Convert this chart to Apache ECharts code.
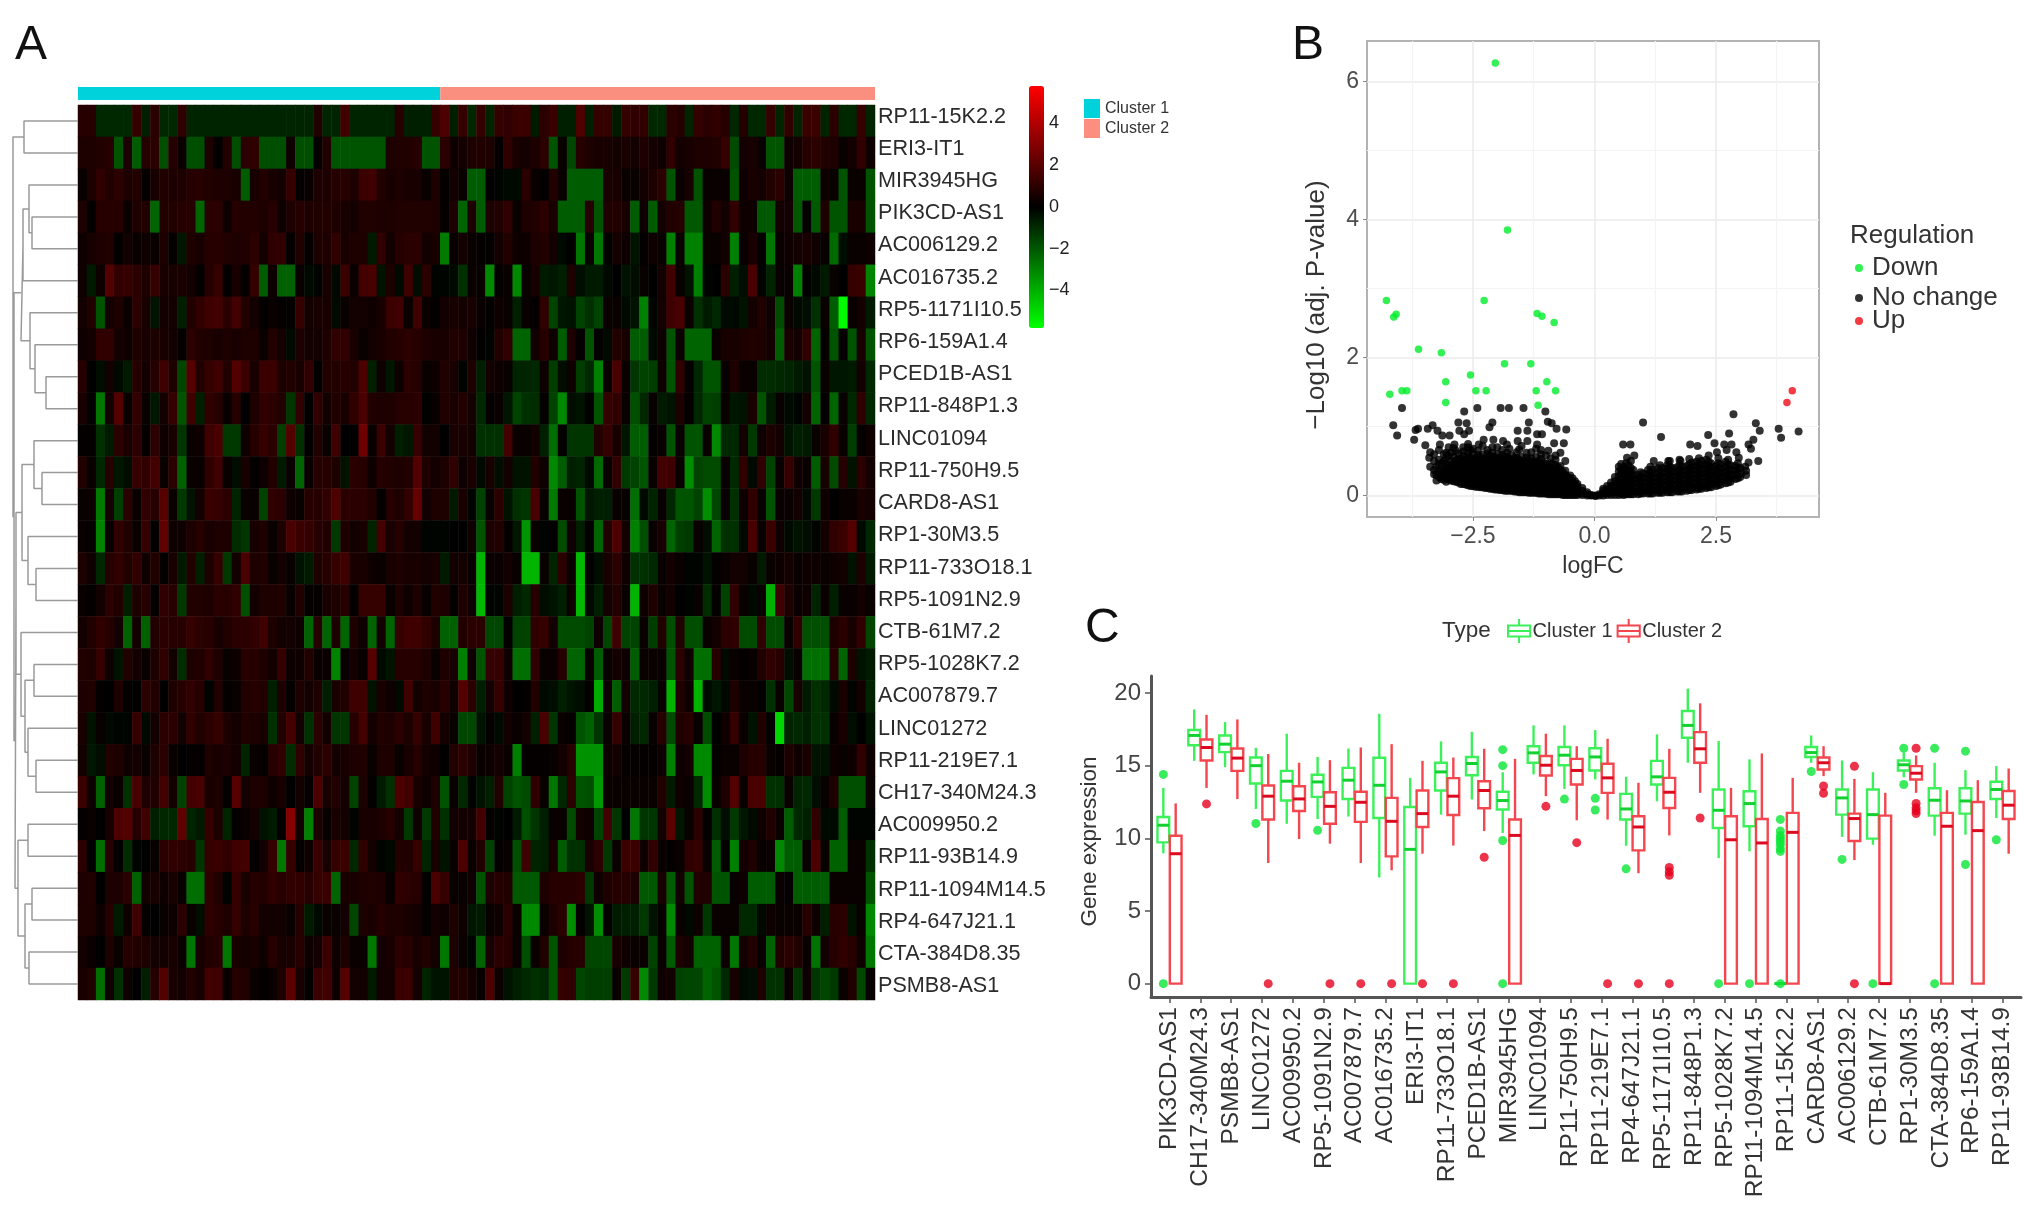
<!DOCTYPE html>
<html><head><meta charset="utf-8">
<style>html,body{margin:0;padding:0;background:#fff}#c{width:2032px;height:1207px;filter:blur(.6px)}</style>
<script src="https://cdn.jsdelivr.net/npm/echarts@6/dist/echarts.min.js"></script>
</head><body><div id="c"></div>
<script>
const FONT='"Liberation Sans", Arial, Helvetica, sans-serif';
// ---------- Panel A ----------
const rowLabels=['RP11-15K2.2','ERI3-IT1','MIR3945HG','PIK3CD-AS1','AC006129.2','AC016735.2','RP5-1171I10.5','RP6-159A1.4','PCED1B-AS1','RP11-848P1.3','LINC01094','RP11-750H9.5','CARD8-AS1','RP1-30M3.5','RP11-733O18.1','RP5-1091N2.9','CTB-61M7.2','RP5-1028K7.2','AC007879.7','LINC01272','RP11-219E7.1','CH17-340M24.3','AC009950.2','RP11-93B14.9','RP11-1094M14.5','RP4-647J21.1','CTA-384D8.35','PSMB8-AS1'];
const cluster1Count=40, cluster2Count=48;
const h00=[.7,.7,-1,-1,-1,-1,1,-.8,.8,-1,-1,.9,-.9,-.9,-.9,-.9,-.9,-.9,-.9,-.9,-.9,-.9,-.9,-.9,-.9,-.9,.6,-.9,-.9,1.3,-.9,-.9,-.9,-.9,-.9,.7,-.8,-.8,-.8,1,1.5,-.8,1,-1, 1,-.9,1,.9,1.1,1.1,-.7,.8,1.1,-.8,-.8,1.5,-.8,1,1,-.7,1,.9,.9,-1,-1,.8,.7,-.9,1,.8,.9,.7,-1,.7,-1,-1,1,-.9,.9,-.9,1.1,1.1,-.9,.8,-1,-1,1,-.9];
const h01=[.5,.5,.6,.7,-2,.5,-2.2,.7,.8,-1.9,.7,.1,-1.9,-1.9,.5,0,.6,-1.9,.8,.9,-1.9,-1.9,-1.9,.2,-1.9,-1.9,0,.6,-2,-2,-2,-2,-2,-2,.5,.6,.6,.7,-2,-2,.8,.2,.3,.5, .6,.5,0,.9,.4,.3,.5,.8,-2,.1,-1.7,.7,.5,.4,.4,.3,.4,.3,.5,.3,.2,.9,.3,.4,.5,.5,.6,1,-1.8,.3,.4,.1,-2,-2,.2,.3,.7,.8,.6,.5,.1,.3,.9,.2];
const h02=[.1,.5,.9,.6,.8,.5,.6,0,.4,.6,.5,.5,.7,.7,.6,.5,.5,.4,-2.2,.4,.6,.4,.3,1,0,.1,.5,.5,.7,.7,.5,1.1,1.2,.6,.4,.5,.4,.4,.1,.5,0,.3,.1,-2.2, -2.2,0,-.2,-.3,-.3,.8,.1,0,.6,.1,-2.2,-2.2,-2.2,-2.2,.4,.4,.1,.1,.3,.5,.8,-2,.1,.4,-2,.1,.1,.1,-2,.2,.4,.3,.6,.8,.2,-2.2,-2.2,-2.2,.2,.1,-2,.1,.1,-2];
const h03=[.5,0,.7,.7,.7,.1,.5,.6,-2.4,.6,.6,.7,.7,-2.4,.8,.8,.2,.7,.6,.6,.5,.7,.2,.5,.7,.5,.6,.6,.5,.4,.3,.6,.6,.5,.5,.6,.6,.6,.6,.5,0,.5,-2.4,.5, -2.2,.5,.6,.9,.1,.5,.6,.8,.4,-2.2,-2.2,-2.2,.7,-2,.6,.6,.4,-2.2,.2,-2.2,.3,.6,.7,-2.1,-2.1,.2,.6,.3,.9,.2,.2,-2.1,-2.1,.3,.3,-2.1,0,-2.1,.5,-2,-2,.4,.4,-2];
const h04=[.2,.4,.5,.6,0,.3,.1,.2,.1,.5,0,-.6,.5,.4,.7,.7,.6,.5,.6,.8,.3,.9,.9,0,.6,0,.5,.5,.9,.4,.5,.5,-.7,.9,.3,.7,.8,.8,.3,.4,-2.9,.1,.3,.1, 0,0,.3,.6,.2,.2,.5,.6,.3,-.3,0,-2.8,.1,-2.8,-.2,.3,.2,-.5,0,.2,.1,-3,.1,-3,-3,.1,.1,.3,-3,.1,.4,0,-2.8,.1,.2,.3,.4,.2,.1,-2.5,-.4,.1,.1,.2];
const h05=[.2,-.7,.2,1.6,.9,1,.8,.5,1,.4,.4,.4,.3,0,.7,1,0,.4,0,1,-2.2,.2,-2.3,-2.3,.1,-.3,-.2,.4,-.3,1.1,.1,1.3,1.4,-.5,.5,-.3,1.2,-.4,.8,-.2,-.2,-.3,-1.2,.1, .1,-3.2,0,.1,-3.2,.1,.4,-.7,-.6,-.8,.5,-.4,-.7,-.7,-.3,-.1,-.5,-.4,.1,-.1,.3,1.3,.1,-.5,-3,-.2,-.1,.8,-.8,-.4,1.4,-.2,-.9,.1,.1,-3,0,-.3,-.7,.1,-.1,1,1.1,-3.1];
const h06=[.3,.6,-2,.3,.5,.1,.8,.4,-.5,.3,.3,-.8,.6,.9,1.2,1.3,.8,1.3,.6,.3,0,.1,0,0,1,.3,.4,.4,-.3,.1,.3,.3,.2,.4,1.1,1.2,.1,1.2,.1,0,.3,.4,.3,.4, .1,0,.2,.1,-.8,.1,0,.9,-1.6,-.6,-.5,-1.6,-1.2,-1.6,.1,.1,-.3,-.5,-3,-.2,.3,1.2,1.4,.1,-1.2,-.7,-1,-.3,-.3,-.5,.3,.6,.2,-1.8,.1,-.3,-.4,-1.2,.1,-2.2,-5.8,.1,.3,-.7];
const h07=[.2,.3,.9,.9,.3,.2,.5,.4,.5,.4,.3,0,.8,.6,.5,.4,.5,.4,.5,.5,.1,.6,.3,-.3,.5,.3,.3,.5,.9,.9,.4,.1,.3,.4,.6,.7,.8,.7,.5,.4,.4,.6,.5,.2, 0,-.2,.6,.9,-2.4,-2.4,.3,.7,.2,-2.2,.5,0,-2,0,-.3,.6,.4,-2.2,-2.2,-.3,.2,-2,.2,-2.4,-2.4,-2.4,.1,.4,.4,.5,.6,.5,.3,-2.2,.4,.3,.9,-2.4,0,-2,0,-2,.4,-2];
const h08=[.7,-.1,-.4,.3,-.3,-.7,.7,.3,.7,1.2,.5,-1.7,1.7,.6,1,1.2,.6,1.6,1.1,.4,1.1,1.1,.5,.6,.4,.9,-.1,.6,.6,.7,.6,1.5,-.8,.2,-.6,.2,.8,.7,.1,.2,.6,.4,-.2,.5, -.8,.3,.2,.1,-.9,-.9,-1,.2,-1.5,-.4,.2,-1.5,-1,-3,.1,1.4,.1,-1.3,-1.6,-1.5,.2,-2,.9,0,-1,-2,-2,.1,.5,.1,.1,-1.1,-1.1,-1,-.9,-.7,-.5,-2,.1,-.6,-.6,-.7,.3,-1];
const h09=[.4,0,-2.8,.3,1.6,.1,.9,.1,-.6,.3,1,-2,1.2,-.8,.9,.7,.1,.7,-.1,.5,.9,.8,.6,-1.3,.9,-.1,.9,.3,.6,.4,.9,1.4,.6,.5,.5,.7,.7,.8,-.1,.1,.6,.4,.6,.3, -1,0,.1,-.6,-1.6,-1.2,-1.1,0,-1.6,-3.2,-.4,-.5,0,-2,1,.9,.1,-1.9,-1,.1,-.7,-.5,.5,0,-1,-1.6,-1.5,.1,-.6,-.5,.4,-2,-.7,.1,-.3,-.2,.3,-2.4,0,-2.4,.1,-1,.9,-1];
const h10=[0,0,-1.2,-.7,.8,.4,.8,0,.8,.2,.4,-1.3,.1,.2,1.2,1.4,-1.4,-1.4,.2,.7,1,.8,-1.5,1.6,-1.2,0,.6,.1,1.2,-.1,-.1,2.2,.1,1.1,.3,-.8,-.6,1,.3,.3,-.1,.4,.4,.3, -1.2,-1.2,-1.2,1.3,.1,.1,.3,-.8,-2.6,0,-1.3,-1.3,-1.3,.6,1,.4,-.6,-2.2,-2.2,0,.1,-2,.1,-2,-2,.1,-3.2,-1,-1,.3,-1.4,.2,.5,.3,-.5,-.8,-.7,.1,.4,.9,.1,-1.5,0,.2];
const h11=[.6,.1,-1,.7,-.6,-.4,1,.9,1.3,.1,.8,-2.3,.1,.1,.9,1.2,.1,-.4,.4,0,.2,.6,-.7,.1,-2.4,.1,.7,.7,.5,-.5,.8,.7,.2,.7,.6,.5,.6,1.6,.5,.3,.5,.9,.2,.4, -.3,.4,-.4,.3,-.5,-.5,.6,.2,-3.2,-2.2,-.8,-.9,-.3,-2.5,.1,.9,-1.4,-1.6,-2,.1,1.3,1.2,.1,-3.3,-1.6,-1.8,-1.8,.1,-1,.9,-.3,.9,-1.6,.1,1,.2,.1,-2.2,.4,-1.8,.7,-.5,.8,.3];
const h12=[.1,.2,-2.9,.3,-1.5,.8,.1,.9,.7,1.7,.1,-1.4,-.5,.3,1.1,1,.8,-.9,.1,.1,-1.6,.9,.8,.2,.1,.7,.7,.9,1.5,.8,.8,.8,.6,0,.7,.5,.9,2,.3,.5,.5,-.7,.4,-.2, -1.6,.1,.8,-.5,-1.2,-1.3,1.4,.1,-2.9,.1,.1,-2,-.6,-.8,-.8,.1,.1,-2.6,-.3,-.9,.1,-1,-2,-2,-1.6,-3.3,-1.7,.1,-1.2,.2,.9,.1,-2,.1,.1,.3,-.3,-1.4,.2,-.1,.1,.1,.4,.3];
const h13=[.1,0,-3.1,.1,.9,.6,.1,1,0,1.9,.2,.2,.5,.7,.4,.5,.5,-1.1,-1.3,.4,.5,.1,.5,1.4,1.1,1,.7,.6,-1.4,.5,.3,.4,-.9,1.3,.4,.7,.3,.3,-.2,-.2,-.2,-.1,-.1,.2, -2,.5,.6,0,-.6,-3.5,.1,-.2,0,-1.8,.2,-.8,0,-2.4,.6,1.5,.3,-3,-1.9,.1,.4,-2.4,-1.5,-1.4,.1,-.4,-2.4,-1.2,-1.2,-.3,1.4,.1,1.1,.2,-.3,-.5,-.4,-.2,.3,.9,1.1,1.6,-.3,-1];
const h14=[.5,.2,-1,.7,.9,.6,.9,.2,.6,0,.4,-.7,.6,-.8,.5,1,-1.4,.3,1.4,.5,.6,.1,.3,.1,-.5,-.7,.5,.7,1,1.2,.4,.4,.2,.1,.4,.5,.4,.4,.3,.4,-.7,.3,.3,.1, -4.2,.1,.1,.3,.1,-4.2,-4.2,.1,-.9,.8,.1,-4.3,0,-.4,.4,.8,.2,-1.2,-1.2,-1,.1,.3,.1,-.2,-.2,-.5,0,.1,.3,.3,.1,-.7,.1,.2,.3,.1,.2,.2,.1,.2,.3,-.5,.5,-.7];
const h15=[.1,0,.3,.8,.6,-.8,.5,.7,0,.9,.7,-1.4,.6,.6,.5,.8,.7,.9,-1.9,.3,.5,.5,.6,.1,.6,0,0,.4,.5,.7,0,1,1,1,.1,.5,.2,.5,.1,.6,.5,0,.5,.2, -4.3,-.2,-.2,.5,-.8,-1,.7,-.4,-.5,-.8,.2,-4.3,-.3,-.8,.3,.6,.1,-4.2,.2,.5,.1,.3,-.1,-.2,.1,-1.1,0,-1.6,.9,.1,-.3,.1,-4.1,1.2,.5,.1,.2,-.9,.1,-.8,.1,.1,.3,.1];
const h16=[.3,.6,.9,.7,.3,-2.3,.3,-2.3,.6,.8,.7,.7,1,.8,.7,.4,.6,.8,.8,.9,1.2,.5,.3,.3,.2,-2.4,.7,-2.4,.5,-2.4,.5,.2,-2.4,.3,-2.4,1,1.2,1.2,.9,.5,-2.3,-2.3,.6,.8, .8,-1.7,-1.7,0,-1.6,-1.6,.9,1,.3,-1.8,-1.8,-1.8,-1.6,.2,-1.7,1.2,-1.6,-1.6,.1,-1.5,.6,-1.9,.6,-1.9,-1.9,.1,.3,.8,.9,-1.8,-1.8,.9,-1.8,-1.8,.1,.9,-1.9,-1.9,-1.9,.5,.8,.4,.9,-1.7];
const h17=[.6,.5,1,.2,-.5,.6,.3,.1,.5,.9,.3,-1.1,.5,.6,.9,.5,.1,.2,.7,.7,.5,.3,1,.2,.2,.6,.1,.1,-3.1,.1,.3,.1,1.7,-.3,-.5,.7,.7,.7,.5,.1,.5,.4,-3,.2, -2,1,1,.2,-2.6,-2.6,.9,.1,.1,.7,-2.4,-2.4,.1,-2.2,.1,.3,.2,-2.2,.1,.1,.1,-2,.8,.2,-2.6,-2.6,.7,-.3,.1,0,.1,.6,.9,.7,-.4,.1,-2.6,-2.6,-2.6,.7,-2.4,.5,-.5,-.7];
const h18=[.5,.6,0,-.1,.5,0,-.1,.8,.6,-.1,.5,.7,.9,.7,-.2,.6,0,.1,.6,.7,.6,-.8,.5,0,.5,.3,.5,-.8,.4,.6,1.2,1.2,-.5,.4,.2,-.3,1.2,.3,.5,.4,.7,.2,1.6,.8, -.8,.3,1,.2,-.1,0,.6,-.3,-.4,-.8,-.5,-.4,0,-4,.2,-2.2,.3,-1,-1,-.8,.1,-4.2,.6,.2,-4.2,-.3,-.6,-.3,.5,.1,.1,0,-1.2,.1,-1.7,.4,-.7,-1.2,-1,-.3,.4,-.2,.3,-.9];
const h19=[.4,-.5,.1,-.3,-.2,-.2,1,-.3,.3,.8,.8,.3,.9,.6,.8,1,.5,.3,.6,.5,.4,-1.2,.6,1.3,.3,-1.2,.8,.3,-1.3,-1.3,.7,1.3,.3,.6,.5,.8,.5,1,.4,1.2,.3,.1,-1.7,-1.7, -.5,0,-.3,.3,.1,.3,-.8,1.4,-1.3,.1,0,-2,-2.3,-1.3,.1,1,.1,-.8,-1,.1,.7,-1.8,.6,.7,.1,-1.8,-.1,.2,1,.1,-.5,.6,0,-5,-.9,-1,-.8,-1.2,-1.2,.1,.4,-.4,-.1,-.5];
const h20=[.3,-.6,-.4,.6,.5,.2,.3,.1,.5,.8,.1,-.1,0,0,.5,.4,.5,.3,-.9,.1,0,.7,.9,-1.1,.9,.3,.6,.8,.3,.4,.5,.6,.1,.5,.5,.1,.4,.7,.3,.2,-.1,.6,.8,.5, .1,.2,.3,.1,-3,0,0,0,.1,.3,.7,-3.4,-3.4,-3.4,.2,.3,0,0,0,0,.2,-3,.2,.3,-3.2,-3.2,0,.1,.1,.5,.7,.7,.1,0,.5,.2,.4,-.5,-.5,.2,.1,.2,.9,.2];
const h21=[1.1,.2,-2.3,.3,.1,-1.2,1.4,.5,.6,1.3,.3,-1.6,1.3,1.4,.4,.5,0,1.7,.3,.5,.5,.2,.4,-.1,.3,0,1.5,.4,.6,.3,-1.6,.5,0,-.7,-1.2,1.5,1.3,.4,.2,.5,-2,.1,-1,-.2, -.5,-.8,.6,-1.6,-2,-1.8,.9,.1,-2.8,-1,.8,-2,-1.9,-3.6,.1,.1,.1,.1,.1,.1,.6,-.7,.2,.1,-1,-3.3,.1,.5,1.6,.1,1.4,1.4,-1.2,-1.2,.1,-.9,-1,-.4,.1,.5,-1.9,-1.9,-1.9,.1];
const h22=[0,.1,-.1,.4,1.5,1.6,.7,1.2,-.8,-1,-1,1.9,-.9,-.7,1,.5,-.9,0,.1,.3,-.5,-.7,0,2.7,.3,-3,.5,.1,.4,.3,-.2,.4,.4,.5,.7,.3,-1.4,.2,-1.4,.6,-1.2,.3,.3,.3, 1.3,0,-.2,-.1,-.7,-1.9,-1.3,-.8,.1,.1,-1.8,.3,.2,-1.6,1.3,-1.3,-.1,-2.8,-1.3,-1.3,.3,1.8,-.6,.1,.8,0,-1.2,-.4,-1.4,-.6,-.3,.2,.6,.1,-2.2,-1,-.8,.9,-.3,-.3,-2.2,-.2,-.2,-.2];
const h23=[.8,-.1,-2.6,.7,0,-1.1,-.2,-.1,.1,.8,.9,.8,.7,-1.3,1,1.1,.9,1.2,1.3,0,.3,1,-2.8,1,0,.2,1.1,.4,1,1.1,-1,.9,.3,-.2,-.3,.6,.6,1,-.9,.4,-.5,.1,1.5,.1, .6,-1.6,0,.1,-1.9,1.2,-.9,-.8,.4,-2.2,-1.2,-1.2,.4,.8,-1.4,.1,1.1,1.1,.2,.9,.1,0,.1,.9,1,.1,-2.2,0,-3,.3,.5,.1,.1,-3.2,-2.2,-2.2,.1,1.5,.1,-2.3,-2.3,.1,.1,-1.2];
const h24=[.5,.6,-.1,.5,.5,.8,-2.3,.3,.4,.2,.4,.1,-2.6,-2.6,.9,.6,-.2,1,.4,.7,.6,.9,.7,.9,.9,.7,1,1.1,-2.4,.4,.4,.5,.6,.5,.1,.9,.8,.7,0,1.4,1,.1,.1,.2, -2,.5,.7,.6,-2.1,-2.1,-2.1,.5,.7,.7,.7,.8,-1.4,.2,.5,.7,.7,.5,-2.1,-2.1,.4,-2.2,.3,-2,.6,.6,-2,-2,.1,.2,-2.2,-2.2,-2.2,.1,0,-2.2,-2.2,-2.2,-2.2,.1,.1,.1,.1,-2];
const h25=[.5,.5,.2,.7,-.7,.2,1.2,0,-.1,.1,.2,.8,.1,-.4,.9,.7,.5,1,.5,.7,.3,.3,.3,.1,.7,-.7,-.3,.1,.1,.3,-1.7,.5,.4,.7,.5,.5,.4,.3,0,.3,.2,.5,.2,-.6, -.7,.1,.2,.8,.1,-3.2,-3.2,.1,.5,.8,-3.3,0,-.5,-3.3,0,-.7,-.8,-.8,-1.4,-.5,.1,-3.2,.1,-.3,.2,-1.4,.1,.1,.1,-1,-1,-.3,.2,.1,.1,.1,.7,.2,-.8,.7,.8,-.5,.1,-3.2];
const h26=[.3,.1,-.1,.5,.1,.7,.6,.5,.3,.3,.4,.1,-2.8,.4,.6,.7,-2.8,.4,.3,.4,.2,.7,.4,.4,.7,.2,.3,1.1,.2,.5,.1,.1,-2.8,.3,.4,.8,.7,.4,.6,.3,-2.8,.5,.1,-.2, -2.4,.4,.8,.7,.1,-1.9,.1,.6,-2,.5,.7,.7,-1.7,-1.7,-1.7,.4,.2,.1,.1,-1.6,.1,-2.2,.5,.3,-2.3,-2.3,-2.3,.2,-2.8,.3,.6,.1,-2.3,.6,.8,.6,.1,-2.7,.3,.7,.9,.7,.2,-2.8];
const h27=[.4,.6,-2.6,.2,-1.2,.2,-.1,-.8,.7,1.6,.4,.3,.6,.4,1.3,1.2,.1,.7,.6,.1,0,.1,.5,1.8,.4,0,1.1,1.2,.2,1.7,.3,.3,-.7,.3,.3,1.1,1.1,.3,-.9,-.5,-.5,.6,.6,.3, .1,1.5,.2,-.5,-.8,-1,-1.2,-1,-2,1,.9,-1.7,-1.5,-1.5,-1.5,.1,-1.4,1,-3.2,-1.4,.2,.3,-1.6,-1.7,-1.7,-2.4,-2,-1,.4,-.3,-.4,.5,-1.2,-1.2,.1,-1.3,.2,-1.3,-1.7,-1.4,.1,.6,-1.7,.1];
const heatRows=[h00,h01,h02,h03,h04,h05,h06,h07,h08,h09,h10,h11,h12,h13,h14,h15,h16,h17,h18,h19,h20,h21,h22,h23,h24,h25,h26,h27];
const colorbarTicks=[-4,-2,0,2,4];
// dendrogram merges: [childA, childB, height]; child >= 100 means merge number child-100
const dendroMerges=[[0,1,54],[3,4,46],[2,101,49],[102,5,55],[8,9,32],[7,104,43],[6,105,48],[103,106,57],[11,12,36],[10,108,44],[14,15,42],[13,110,50],[109,111,56],[17,18,44],[20,21,42],[19,114,50],[113,115,53],[16,116,57],[112,117,62],[22,23,50],[24,25,46],[26,27,49],[120,121,53],[119,122,60],[118,123,63],[107,124,64],[100,125,65]];
// ---------- Panel B ----------
const volcanoDown=[[-2.04,6.27],[-1.79,3.85],[-4.28,2.83],[-4.08,2.63],[-4.13,2.59],[-2.27,2.83],[-1.18,2.64],[-1.08,2.6],[-.83,2.51],[-3.62,2.12],[-3.15,2.07],[-1.85,1.91],[-1.31,1.91],[-2.55,1.75],[-3.06,1.65],[-.98,1.65],[-4.21,1.47],[-3.96,1.52],[-3.86,1.52],[-2.44,1.52],[-2.23,1.52],[-1.2,1.52],[-.8,1.52],[-3.06,1.35],[-1.16,1.31]];
const volcanoUp=[[4.07,1.52],[3.96,1.35]];
const volcanoSparse=[[-3.96,1.27],[-2.68,1.22],[-2.41,1.27],[-1.93,1.27],[-1.76,1.27],[-1.46,1.27],[-1.01,1.22],[-4.14,1.02],[-4.06,.87],[-3.71,.81],[-3.68,.95],[-3.63,.97],[-3.43,.97],[-3.33,1.02],[-2.8,1.06],[-2.63,1.05],[-2.1,1.06],[-2.16,.99],[-1.35,1.06],[-.96,1.07],[-.88,1.05],[-.78,.97],[-.58,.96],[-1.58,.94],[-1.38,.94],[-1.18,.89],[-1.08,.89],[-3.48,.73],[-3.23,.94],[-3.13,.87],[-2.98,.87],[-2.78,.94],[-2.68,.89],[-2.58,.94],[-2.28,.81],[-2.08,.81],[-1.88,.79],[-1.58,.79],[-1.38,.79],[-1.18,.74],[-.83,.76],[-.63,.76],[-2.38,.74],[-3.18,.74],[-3.38,.63],[-2.88,.74],[-3.4,.55],[-3.38,.42],[-3.3,.5],[-3.05,.62],[-2.95,.62],[-2.85,.65],[-2.7,.7],[-2.6,.75],[-2.55,.66],[-2.2,.66],[-2,.7],[-1.75,.68],[-1.55,.67],[-1.3,.63],[-1.1,.66],[-.95,.65],[-.8,.58],[-.7,.62],[-.6,.5],[-3.02,.24],
[1,1.06],[1.37,.85],[2.86,1.18],[3.32,1.05],[3.79,.97],[3.84,.84],[4.2,.93],[2.77,.9],[2.34,.88],[3.4,.94],[3.27,.81],[3.17,.74],[.59,.74],[.74,.74],[1.97,.74],[2.12,.72],[2.47,.76],[2.67,.74],[2.82,.74],[3.37,.5],[3.17,.48],[2.97,.55],[3.02,.32],[2.72,.66],[2.52,.63],[.82,.58],[.67,.55],[1.22,.5],[1.52,.5],[1.77,.5],[3.22,.68],[2.92,.63],[3.1,.42]];
const volcanoDense=[
[-3.25,[.22,.3,.42]],[-3.15,[.24,.31,.38,.47]],[-3.05,[.2,.26,.33,.4,.46,.55]],[-2.95,[.22,.28,.34,.42,.5]],[-2.85,[.2,.25,.31,.37,.44,.51]],[-2.75,[.17,.23,.29,.35,.41,.47,.54]],[-2.65,[.16,.21,.27,.33,.39,.45,.52]],[-2.55,[.14,.2,.25,.31,.37,.43,.49,.55]],[-2.45,[.13,.18,.24,.3,.36,.42,.48,.54]],[-2.35,[.12,.17,.23,.29,.35,.41,.47,.56]],[-2.25,[.11,.16,.22,.28,.34,.4,.46,.53]],[-2.15,[.1,.15,.21,.27,.33,.39,.45,.51,.58]],[-2.05,[.09,.14,.2,.26,.32,.38,.44,.5,.56]],[-1.95,[.08,.13,.19,.25,.31,.37,.43,.49,.55]],[-1.85,[.07,.12,.18,.24,.3,.36,.42,.48,.57]],[-1.75,[.07,.11,.17,.23,.29,.35,.41,.47,.53]],[-1.65,[.06,.11,.17,.23,.29,.35,.41,.46,.54]],[-1.55,[.05,.1,.16,.22,.28,.34,.4,.46,.52]],[-1.45,[.05,.1,.15,.21,.27,.33,.39,.45,.5]],[-1.35,[.04,.09,.15,.21,.27,.33,.39,.44,.52]],[-1.25,[.04,.09,.14,.2,.26,.32,.38,.43,.49]],[-1.15,[.03,.08,.14,.2,.26,.32,.38,.44,.5]],[-1.05,[.03,.08,.13,.19,.25,.31,.37,.42,.48]],[-.95,[.02,.07,.13,.19,.25,.31,.36,.42]],[-.85,[.02,.07,.12,.18,.24,.3,.36,.45]],[-.75,[.02,.06,.11,.17,.23,.29,.35,.41]],[-.65,[.01,.05,.1,.16,.22,.28,.34]],[-.55,[.01,.05,.1,.15,.21,.27]],[-.45,[.01,.04,.09,.14,.2,.25]],[-.35,[.01,.03,.08,.13,.17]],[-.25,[.01,.03,.07,.11]],[-.15,[0,.02,.05]],[-.07,[0,.01]],
[.02,[-.005,0]],[.1,[0,.02]],[.18,[0,.03,.07,.1]],[.26,[.01,.04,.09,.14]],[.34,[.01,.04,.09,.14,.19]],[.42,[.01,.05,.1,.15,.21,.27]],[.5,[.01,.05,.1,.16,.22,.28,.35,.42]],[.6,[.01,.05,.11,.17,.23,.29,.35,.41]],[.7,[.02,.06,.12,.18,.24,.3,.36,.44]],[.8,[.02,.06,.12,.18,.24,.3,.37]],[.9,[.02,.06,.12,.18,.24,.3]],[1,[.03,.07,.13,.19,.25,.32]],[1.1,[.03,.07,.13,.19,.25,.31,.37]],[1.2,[.03,.08,.14,.2,.26,.32,.38]],[1.3,[.04,.08,.14,.2,.26,.32,.4]],[1.4,[.04,.09,.15,.21,.27,.33,.4]],[1.5,[.05,.09,.15,.21,.27,.33,.39,.44]],[1.6,[.05,.1,.16,.22,.28,.34,.4]],[1.7,[.06,.1,.16,.22,.28,.34,.41]],[1.8,[.06,.11,.17,.23,.29,.35,.42]],[1.9,[.07,.12,.18,.24,.3,.36,.43]],[2,[.08,.12,.18,.24,.3,.36,.42,.48]],[2.1,[.09,.13,.19,.25,.31,.37,.43,.49]],[2.2,[.1,.14,.2,.26,.32,.38,.44,.5]],[2.3,[.11,.15,.21,.27,.33,.39,.45,.52]],[2.4,[.12,.17,.23,.29,.35,.41,.47]],[2.5,[.14,.19,.25,.31,.37,.43]],[2.6,[.16,.21,.27,.33,.39,.45]],[2.7,[.18,.23,.29,.35,.42,.49]],[2.8,[.2,.25,.31,.37,.44]],[2.9,[.24,.3,.36,.43]],[3,[.27,.4]]];
const volcanoFill=[
[-3.3,[.31,.37,.6]],[-3.2,[.27,.35,.45,.52,.66]],[-3.1,[.23,.29,.36,.5,.6]],[-3,[.25,.31,.37,.44,.58,.7]],[-2.9,[.21,.27,.33,.4,.47,.56,.69]],[-2.8,[.19,.25,.32,.38,.46,.53,.61]],[-2.7,[.17,.23,.3,.36,.44,.5,.58,.64]],[-2.6,[.15,.2,.28,.35,.41,.48,.56,.62,.7]],[-2.5,[.14,.19,.26,.33,.4,.46,.52,.6,.68]],[-2.4,[.13,.2,.27,.33,.39,.45,.51,.59,.65]],[-2.3,[.12,.19,.26,.32,.38,.44,.5,.6,.72]],[-2.2,[.11,.18,.24,.3,.37,.43,.49,.55,.61]],[-2.1,[.1,.17,.23,.29,.35,.42,.48,.54,.62,.7]],[-2,[.09,.16,.22,.28,.34,.4,.47,.53,.6]],[-1.9,[.08,.15,.21,.27,.33,.39,.45,.51,.59,.66]],[-1.8,[.07,.14,.2,.26,.32,.38,.44,.5,.56,.62,.74]],[-1.7,[.07,.14,.2,.26,.32,.38,.44,.5,.58]],[-1.6,[.06,.13,.19,.25,.31,.37,.43,.49,.55,.63]],[-1.5,[.05,.12,.18,.24,.3,.36,.42,.48,.56,.72]],[-1.4,[.05,.12,.18,.24,.3,.36,.42,.47,.55,.62]],[-1.3,[.04,.11,.17,.23,.29,.35,.41,.46,.54]],[-1.2,[.04,.11,.17,.23,.29,.35,.41,.47,.56,.68]],[-1.1,[.03,.1,.16,.22,.28,.34,.4,.45,.53,.6]],[-1,[.03,.09,.15,.22,.28,.34,.4,.46,.58]],[-.9,[.02,.09,.15,.21,.27,.33,.39,.47,.54]],[-.8,[.02,.08,.14,.2,.26,.32,.38,.44,.52]],[-.7,[.02,.07,.13,.19,.25,.31,.37,.43]],[-.6,[.01,.06,.12,.18,.24,.3,.36]],[-.5,[.01,.06,.11,.17,.23,.29]],[-.4,[.01,.05,.1,.15,.21]],
[.55,[.02,.08,.13,.19,.25,.31,.38,.46]],[.65,[.02,.08,.14,.2,.26,.32,.38,.47]],[.75,[.02,.09,.15,.21,.27,.33,.4,.5]],[.95,[.03,.09,.15,.21,.27,.34]],[1.15,[.03,.1,.16,.22,.28,.34,.42]],[1.35,[.04,.11,.17,.23,.29,.36,.44]],[1.55,[.05,.12,.18,.24,.3,.36,.42,.5]],[1.75,[.06,.13,.19,.25,.31,.37,.44,.52]],[1.95,[.08,.15,.21,.27,.33,.39,.45,.53]],[2.15,[.1,.16,.22,.28,.34,.4,.46,.54]],[2.35,[.12,.19,.25,.31,.37,.43,.49,.58]],[2.55,[.15,.22,.28,.34,.4,.47,.54]],[2.75,[.19,.26,.32,.38,.45,.52]],[2.95,[.25,.33,.4,.47]],[3.12,[.3,.36]]];
// ---------- Panel C ----------
const geneNames=['PIK3CD-AS1','CH17-340M24.3','PSMB8-AS1','LINC01272','AC009950.2','RP5-1091N2.9','AC007879.7','AC016735.2','ERI3-IT1','RP11-733O18.1','PCED1B-AS1','MIR3945HG','LINC01094','RP11-750H9.5','RP11-219E7.1','RP4-647J21.1','RP5-1171I10.5','RP11-848P1.3','RP5-1028K7.2','RP11-1094M14.5','RP11-15K2.2','CARD8-AS1','AC006129.2','CTB-61M7.2','RP1-30M3.5','CTA-384D8.35','RP6-159A1.4','RP11-93B14.9'];
// [low whisker, q1, median, q3, high whisker]
const boxCluster1=[[8.97,9.72,10.9,11.47,13.47],[15.33,16.4,17.08,17.45,18.87],[14.9,15.93,16.48,17.08,18],[12.02,13.77,15,15.56,16.23],[11,12.6,13.93,14.64,17.2],[11.33,12.85,13.88,14.37,15.6],[11.5,12.71,14,14.85,16.18],[7.3,11.4,13.65,15.54,18.57],[0,0,9.24,12.16,14.16],[11.63,13.29,14.57,15.2,16.67],[12.67,14.34,15.15,15.6,17.33],[10.37,11.98,12.6,13.2,14.55],[14.4,15.2,15.88,16.34,17.77],[13.4,15.03,15.72,16.28,17.77],[14.05,14.67,15.6,16.2,17.45],[9.49,11.29,12.02,13.06,14.23],[12.55,13.7,14.23,15.33,17.15],[15.2,16.92,17.77,18.76,20.3],[8.64,10.71,11.93,13.36,16.69],[9.1,10.83,12.39,13.24,15.43],[0,0,0,0,0],[15.2,15.6,15.9,16.28,17.08],[10.1,11.63,12.78,13.36,15.36],[9.56,9.98,11.63,13.36,14.55],[14.2,14.67,15.06,15.36,15.9],[10.18,11.56,12.62,13.45,15.2],[10.25,11.7,12.57,13.45,14.69],[11.4,12.71,13.36,13.89,14.97]];
const boxCluster2=[[0,0,8.94,10.18,12.4],[13.47,15.36,16.25,16.8,18.5],[12.7,14.64,15.52,16.18,18.18],[8.3,11.29,12.9,13.63,15.8],[9.95,11.88,12.71,13.58,15.2],[9.63,11,12.2,13.17,15.38],[8.3,11.13,12.48,13.2,16.25],[7.8,8.76,11.17,12.78,16.48],[8.94,10.78,11.7,13.29,15.33],[9.5,11.6,12.9,14.14,15.56],[10.5,12.07,13.29,13.93,16.16],[0,0,10.2,11.29,15.47],[12.9,14.32,15.03,15.66,17.2],[11.24,13.7,14.67,15.47,16.34],[11.29,13.13,14.16,15.13,16.85],[7.6,9.17,10.78,11.52,13.82],[10.2,12.09,13.17,14.16,16.16],[13.13,15.2,16.16,17.31,19.29],[0,0,9.9,11.52,13.47],[0,0,9.68,11.33,15.84],[0,0,10.41,11.75,14.16],[14.28,14.74,15.2,15.56,16.34],[8.5,9.82,11.36,11.7,14.09],[0,0,0,11.56,13.13],[13.13,14.05,14.48,14.97,15.7],[0,0,10.83,11.75,13.31],[0,0,10.53,12.5,14],[8.94,11.33,12.28,13.26,14.8]];
// outliers: [gene number, value]
const outliersCluster1=[[1,14.4],[1,0],[4,11.02],[6,10.55],[12,16.1],[12,15],[12,9.85],[12,0],[14,12.7],[15,12.75],[15,11.95],[16,7.9],[19,0],[20,0],[21,11.3],[21,10.5],[21,10.2],[21,10],[21,9.8],[21,9.6],[21,9.3],[21,9.1],[21,0],[22,14.6],[23,8.55],[24,0],[25,16.2],[25,13.7],[26,16.2],[26,0],[27,16],[27,8.2],[28,9.9]];
const outliersCluster2=[[2,12.37],[4,0],[6,0],[7,0],[8,0],[9,0],[10,0],[11,8.7],[13,12.2],[14,9.7],[15,0],[16,0],[17,8],[17,7.7],[17,7.45],[17,0],[18,11.4],[22,13.6],[22,13.1],[23,14.96],[23,0],[25,16.2],[25,12.4],[25,12.1],[25,11.9],[25,11.7]];

// ---------- build ----------
const POS_SCALE=1.1;
const heatData=[];
heatRows.forEach((r,y)=>r.forEach((v,x)=>heatData.push([x,y,v>0?v*POS_SCALE:v])));
const colNames=heatRows[0].map((_,i)=>String(i+1));

const dendroPts=[];
const nodeOf=[];
const place=c=>c>=100?nodeOf[c-100]:{h:0,y:c+.5};
dendroMerges.forEach(([a,b,h])=>{
  const A=place(a),B=place(b);
  dendroPts.push([A.h,A.y],[h,A.y],[h,B.y],[B.h,B.y],[null,null]);
  nodeOf.push({h,y:(A.y+B.y)/2});
});
const volcanoBlack=volcanoSparse.slice();
volcanoDense.concat(volcanoFill).forEach(([x,ys])=>ys.forEach(y=>volcanoBlack.push([x,y])));

const OFF=.2, HALF=.19;
const GREEN='#3cf05a', GREEN_D='#12d030', GREEN_O='#0ae636', RED='#f4464e', RED_D='#dc0a1e', RED_O='#e6001e';
const boxRows=(arr,off)=>arr.map((b,i)=>[i+1+off,b[0],b[1],b[2],b[3],b[4]]);
function renderBox(color,dark){return function(params,api){
  const x=api.value(0),lo=api.value(1),q1=api.value(2),med=api.value(3),q3=api.value(4),hi=api.value(5);
  const pc=api.coord([x,hi]),pl=api.coord([x,lo]),pq3=api.coord([x,q3]),pq1=api.coord([x,q1]);
  const L=api.coord([x-HALF,med])[0],R=api.coord([x+HALF,med])[0],my=api.coord([x,med])[1];
  const sty={stroke:color,lineWidth:2.4,fill:null};
  return {type:'group',silent:true,children:[
    {type:'line',shape:{x1:pc[0],y1:pc[1],x2:pq3[0],y2:pq3[1]},style:sty},
    {type:'line',shape:{x1:pq1[0],y1:pq1[1],x2:pl[0],y2:pl[1]},style:sty},
    {type:'rect',shape:{x:L,y:pq3[1],width:R-L,height:pq1[1]-pq3[1]},style:{stroke:color,lineWidth:2.4,fill:'#fff'}},
    {type:'line',shape:{x1:L,y1:my,x2:R,y2:my},style:{stroke:dark,lineWidth:3}}
  ]};
};}
const KEY_ICON='path://M0 7H24V19H0ZM0 13H24M12 0V7M12 19V26';
const axisHidden=(o)=>Object.assign({show:false},o);
const majX=[-2.5,0,2.5], minX=[-3.75,-1.25,1.25,3.75], majY=[0,2,4,6], minY=[1,3,5];
const xNums=geneNames.map((_,i)=>i+1);
const signed=v=>String(v).replace('-','\u2212');
const PANEL={fontSize:48,fontWeight:'normal',color:'#111',fontFamily:FONT};

const option={
 backgroundColor:'#fff', animation:false, textStyle:{fontFamily:FONT},
 title:[
  {text:'A',left:15,top:22,padding:0,textStyle:PANEL},
  {text:'B',left:1292,top:22,padding:0,textStyle:PANEL},
  {text:'C',left:1085,top:605,padding:0,textStyle:PANEL},
  {text:'Regulation',left:1850,top:223,padding:0,textStyle:{fontSize:26,fontWeight:'normal',color:'#333',fontFamily:FONT}},
  {text:'Type',left:1442,top:619,padding:0,textStyle:{fontSize:22.5,fontWeight:'normal',color:'#333',fontFamily:FONT}}
 ],
 grid:[
  {left:78,top:105,width:797,height:895},
  {left:78,top:87,width:797,height:13},
  {left:0,top:105,width:78,height:895},
  {left:1029,top:88,width:15,height:242},
  {left:1367,top:41,width:452,height:476,show:true,borderColor:'#b3b3b3',borderWidth:2},
  {left:1151,top:676,width:870,height:321},
  {left:78,top:100.5,width:797,height:902}
 ],
 xAxis:[
  {gridIndex:0,type:'category',data:colNames,show:false},
  axisHidden({gridIndex:1,type:'value',min:0,max:88}),
  axisHidden({gridIndex:2,type:'value',min:0,max:78,inverse:true}),
  axisHidden({gridIndex:3,type:'value',min:0,max:1}),
  {gridIndex:4,type:'value',min:-4.68,max:4.62,position:'bottom',
   name:'logFC',nameLocation:'middle',nameGap:38,nameTextStyle:{fontSize:23,color:'#333'},
   axisLine:{show:false,onZero:false},axisTick:{show:true,length:4,lineStyle:{color:'#888'},customValues:majX},
   axisLabel:{customValues:majX,fontSize:23,color:'#4d4d4d',margin:8,formatter:v=>signed(v.toFixed(1))},
   splitLine:{show:true,lineStyle:{color:'#ebebeb',width:1.5}}},
  {gridIndex:5,type:'value',min:.4,max:28.6,position:'bottom',
   axisLine:{onZero:false,lineStyle:{color:'#555',width:3}},axisTick:{length:6,lineStyle:{color:'#555',width:1.5},customValues:xNums},
   axisLabel:{customValues:xNums,rotate:90,fontSize:24.5,color:'#333',margin:10,formatter:v=>geneNames[v-1]},
   splitLine:{show:false}},
  {gridIndex:4,type:'value',min:-4.68,max:4.62,position:'top',axisLine:{show:false,onZero:false},axisLabel:{show:false},
   axisTick:{show:false,customValues:minX},splitLine:{show:true,lineStyle:{color:'#f4f4f4',width:1.2}}},
  axisHidden({gridIndex:6,type:'value',min:0,max:1})
 ],
 yAxis:[
  {gridIndex:0,type:'category',data:rowLabels,inverse:true,show:false},
  axisHidden({gridIndex:1,type:'category',data:['Cluster']}),
  axisHidden({gridIndex:2,type:'value',min:0,max:28,inverse:true}),
  {gridIndex:3,type:'value',min:-5.9,max:5.7,position:'right',axisLine:{show:false,onZero:false},axisTick:{show:false,customValues:colorbarTicks},splitLine:{show:false},
   axisLabel:{customValues:colorbarTicks,margin:5,fontSize:18,color:'#222',formatter:signed}},
  {gridIndex:4,type:'value',min:-.31,max:6.59,position:'left',
   name:'\u2212Log10 (adj. P-value)',nameLocation:'middle',nameGap:37,nameTextStyle:{fontSize:26,color:'#333',padding:[0,52,0,0]},
   axisLine:{show:false,onZero:false},axisTick:{show:true,length:4,lineStyle:{color:'#888'},customValues:majY},
   axisLabel:{customValues:majY,fontSize:23,color:'#4d4d4d',margin:8},
   splitLine:{show:true,lineStyle:{color:'#ebebeb',width:1.5}}},
  {gridIndex:5,type:'value',min:-.92,max:21.17,position:'left',
   name:'Gene expression',nameLocation:'middle',nameGap:50,nameTextStyle:{fontSize:22.5,color:'#333',padding:[0,10,0,0]},
   axisLine:{show:true,onZero:false,lineStyle:{color:'#555',width:3}},axisTick:{show:true,length:6,lineStyle:{color:'#555',width:1.5},customValues:[0,5,10,15,20]},
   axisLabel:{customValues:[0,5,10,15,20],fontSize:24,color:'#444',margin:10},splitLine:{show:false}},
  {gridIndex:4,type:'value',min:-.31,max:6.59,position:'right',axisLine:{show:false,onZero:false},axisLabel:{show:false},
   axisTick:{show:false,customValues:minY},splitLine:{show:true,lineStyle:{color:'#f4f4f4',width:1.2}}},
  {gridIndex:6,type:'category',data:rowLabels,inverse:true,position:'right',axisLine:{show:false,onZero:false},axisTick:{show:false},splitLine:{show:false},
   axisLabel:{interval:0,margin:3,fontSize:21.6,color:'#2b2b2b'}}
 ],
 visualMap:[{type:'continuous',seriesIndex:0,min:-5.9,max:5.7,calculable:false,left:1029,top:86,itemWidth:15,itemHeight:242,padding:0,text:null,showLabel:false,
   inRange:{color:['#00ff00','#000000','#ff0000']},textStyle:{color:'rgba(0,0,0,0)',fontSize:1},hoverLink:false}],
 legend:[
  {left:1084,top:99,orient:'vertical',itemGap:1,itemWidth:16,itemHeight:19,padding:0,icon:'rect',selectedMode:false,data:['Cluster 1','Cluster 2'],textStyle:{fontSize:16,color:'#333',lineHeight:19}},
  {left:1855,top:255,itemWidth:8,itemHeight:8,padding:0,icon:'circle',selectedMode:false,data:['Down'],textStyle:{fontSize:26,color:'#333',padding:[0,0,0,4]}},
  {left:1855,top:285,itemWidth:8,itemHeight:8,padding:0,icon:'circle',selectedMode:false,data:['No change'],textStyle:{fontSize:26,color:'#333',padding:[0,0,0,4]}},
  {left:1855,top:308,itemWidth:8,itemHeight:8,padding:0,icon:'circle',selectedMode:false,data:['Up'],textStyle:{fontSize:26,color:'#333',padding:[0,0,0,4]}},
  {left:1507,top:618,itemWidth:23,itemHeight:24,itemGap:4,padding:0,selectedMode:false,
   data:[{name:'Type Cluster 1',icon:KEY_ICON,itemStyle:{color:'transparent',borderColor:GREEN,borderWidth:2}},
         {name:'Type Cluster 2',icon:KEY_ICON,itemStyle:{color:'transparent',borderColor:RED,borderWidth:2}}],
   formatter:n=>n.replace('Type ',''),textStyle:{fontSize:20,color:'#333',padding:[0,0,0,-3]}}
 ],
 series:[
  {name:'Expression',type:'heatmap',xAxisIndex:0,yAxisIndex:0,data:heatData,progressive:0,silent:true,itemStyle:{borderWidth:0}},
  {name:'Cluster 1',type:'bar',xAxisIndex:1,yAxisIndex:1,stack:'anno',barWidth:'100%',data:[cluster1Count],itemStyle:{color:'#00d2dc'},silent:true},
  {name:'Cluster 2',type:'bar',xAxisIndex:1,yAxisIndex:1,stack:'anno',barWidth:'100%',data:[cluster2Count],itemStyle:{color:'#fa8f80'},silent:true},
  {name:'Dendrogram',type:'line',xAxisIndex:2,yAxisIndex:2,data:dendroPts,symbol:'none',connectNulls:false,lineStyle:{color:'#9a9a9a',width:1.5},silent:true},
  {name:'No change',type:'scatter',xAxisIndex:4,yAxisIndex:4,data:volcanoBlack,symbolSize:8,itemStyle:{color:'#000'},silent:true,z:3},
  {name:'Down',type:'scatter',xAxisIndex:4,yAxisIndex:4,data:volcanoDown,symbolSize:7.5,itemStyle:{color:'#00ee2a'},silent:true,z:4},
  {name:'Up',type:'scatter',xAxisIndex:4,yAxisIndex:4,data:volcanoUp,symbolSize:7.5,itemStyle:{color:'#f00a14'},silent:true,z:4},
  {name:'Type Cluster 1',type:'custom',xAxisIndex:5,yAxisIndex:5,renderItem:renderBox(GREEN,GREEN_D),data:boxRows(boxCluster1,-OFF),encode:{x:0,y:[1,2,3,4,5]},itemStyle:{color:GREEN},z:3},
  {name:'Type Cluster 2',type:'custom',xAxisIndex:5,yAxisIndex:5,renderItem:renderBox(RED,RED_D),data:boxRows(boxCluster2,OFF),encode:{x:0,y:[1,2,3,4,5]},itemStyle:{color:RED},z:4},
  {name:'Outliers 1',type:'scatter',xAxisIndex:5,yAxisIndex:5,data:outliersCluster1.map(([g,v])=>[g-OFF,v]),symbolSize:9,itemStyle:{color:GREEN_O},silent:true,z:5},
  {name:'Outliers 2',type:'scatter',xAxisIndex:5,yAxisIndex:5,data:outliersCluster2.map(([g,v])=>[g+OFF,v]),symbolSize:9,itemStyle:{color:RED_O},silent:true,z:5}
 ]
};
const chart=echarts.init(document.getElementById('c'),null,{renderer:'canvas'});
chart.setOption(option);
</script></body></html>
